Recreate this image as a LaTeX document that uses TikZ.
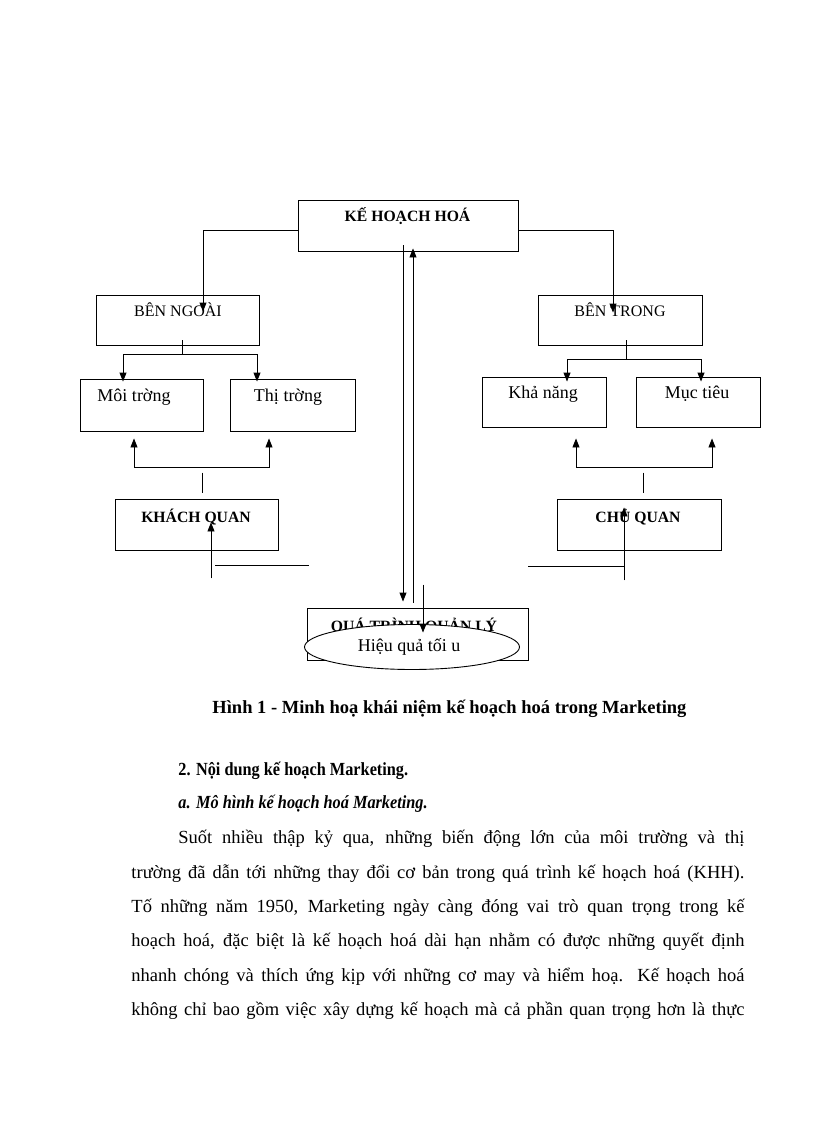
\documentclass[tikz,border=0pt]{standalone}
\usepackage{fontspec}
\setmainfont{Liberation Serif}
\newfontfamily\condserif[FakeStretch=0.88]{Liberation Serif}
\usetikzlibrary{arrows.meta,calc,shapes.geometric}
\begin{document}
\begin{tikzpicture}[x=1pt,y=-1pt,
  line width=0.9pt,
  box/.style={draw, rectangle, inner sep=0pt},
  lbl/.style={inner sep=0pt, anchor=base, font=\fontsize{16}{19}\selectfont},
  lblb/.style={lbl, font=\fontsize{15.7}{18}\selectfont\bfseries},
  arr/.style={-{Triangle[length=9pt,width=7pt]}},
  arrb/.style={{Triangle[length=9pt,width=7pt]}-{Triangle[length=9pt,width=7pt]}},
  body/.style={inner sep=0pt, anchor=base west, font=\fontsize{18.5}{21}\selectfont}]
\useasboundingbox (0,0) rectangle (816,1123);
% boxes
\node[box, minimum width=220pt, minimum height=51pt] (kh) at (408,225.5) {};
\node[box, minimum width=163pt, minimum height=50pt] (bn) at (177.5,320) {};
\node[box, minimum width=164pt, minimum height=50pt] (bt) at (620,320) {};
\node[box, minimum width=123pt, minimum height=52pt] (mt) at (141.5,405) {};
\node[box, minimum width=125pt, minimum height=52pt] (tt) at (292.5,405) {};
\node[box, minimum width=124pt, minimum height=50pt] (kn) at (544,402) {};
\node[box, minimum width=124pt, minimum height=50pt] (mu) at (698,402) {};
\node[box, minimum width=163pt, minimum height=51pt] (kq) at (196.5,524.5) {};
\node[box, minimum width=164pt, minimum height=51pt] (cq) at (639,524.5) {};
\node[box, minimum width=221pt, minimum height=52pt] (qt) at (417.5,634) {};
% labels
\node[lblb] (tkh) at (407.5,222) {KẾ HOẠCH HOÁ};
\node[lbl] (tbn) at (178,316) {BÊN NGOÀI};
\node[lbl] (tbt) at (620,316) {BÊN TRONG};
\node[lbl, font=\fontsize{18}{21}\selectfont] (tmt) at (134,401) {Môi trờng};
\node[lbl, font=\fontsize{18}{21}\selectfont] (ttt) at (288,401) {Thị trờng};
\node[lbl, font=\fontsize{18}{21}\selectfont] (tkn) at (543,398) {Khả năng};
\node[lbl, font=\fontsize{18}{21}\selectfont] (tmu) at (697,398) {Mục tiêu};
\node[lblb] (tkq) at (196,522) {KHÁCH QUAN};
\node[lblb] (tcq) at (638,522) {CHỦ QUAN};
\node[lblb] (tqt) at (414,631) {QUÁ TRÌNH QUẢN LÝ};
% ellipse
\node[draw, ellipse, fill=white, minimum width=215pt, minimum height=45pt, inner sep=0pt] (hq) at (412,647) {};
\node[lbl, font=\fontsize{18}{21}\selectfont] (thq) at (409,651) {Hiệu quả tối u};
% top connectors
\draw[arr] ($(kh.west)+(0,4.5)$) -| ($(bn.north)+(25.5,17)$);
\draw[arr] ($(kh.east)+(0,4.5)$) -| ($(bt.north)+(-7,18)$);
% left upper split
\draw ($(bn.south)+(4.5,-5)$) -- ++(0,15);
\draw[arrb] ($(mt.north)+(-18.5,3)$) -- ++(0,-27) -| ($(tt.north)+(-35.5,3)$);
% right upper split
\draw ($(bt.south)+(6,-5)$) -- ++(0,20);
\draw[arrb] ($(kn.north)+(23,5)$) -- ++(0,-22) -| ($(mu.north)+(3,5)$);
% left lower
\draw[arrb] ($(mt.south)+(-7.5,7)$) -- ++(0,29) -| ($(tt.south)+(-23.5,7)$);
\draw ($(kq.north)+(5.5,-26)$) -- ++(0,20);
% right lower
\draw[arrb] ($(kn.south)+(32,11)$) -- ++(0,29) -| ($(mu.south)+(14,11)$);
\draw ($(cq.north)+(4,-26)$) -- ++(0,20);
% inner lines
\draw[arr] ($(kq.south)+(14.5,28)$) -- ($(kq.south)+(14.5,-28)$);
\draw ($(kq.south)+(18.5,15)$) -- ++(94,0);
\draw[arr] ($(cq.south)+(-15,30)$) -- ($(cq.south)+(-15,-43)$);
\draw ($(cq.south)+(-15,16)$) -- ++(-96,0);
% central
\draw[arr] ($(kh.south)+(-5,-6)$) -- ($(qt.north)+(-14.5,-6)$);
\draw[arr] ($(qt.north)+(-4.5,-5)$) -- ($(kh.south)+(5,-3)$);
\draw[arr] ($(qt.north)+(5.5,-23)$) -- ($(qt.north)+(5.5,25)$);
% caption
\node[inner sep=0pt, anchor=base west, font=\fontsize{18.5}{21}\selectfont\bfseries] (cap) at (212,713) {Hình 1 - Minh hoạ khái niệm kế hoạch hoá trong Marketing};
% text
\node[body, font=\condserif\fontsize{18.5}{21}\selectfont\bfseries] (h2) at (178,775) {2. Nội dung kế hoạch Marketing.};
\node[body, font=\condserif\fontsize{18.5}{21}\selectfont\bfseries\itshape] (ha) at (178,808) {a. Mô hình kế hoạch hoá Marketing.};
\node[body] (p1) at (178,843) {\makebox[566pt][s]{Suốt nhiều thập kỷ qua, những biến động lớn của môi trường và thị}};
\node[body] (p2) at (131,878) {\makebox[613pt][s]{trường đã dẫn tới những thay đổi cơ bản trong quá trình kế hoạch hoá (KHH).}};
\node[body] (p3) at (131,912) {\makebox[613pt][s]{Tố những năm 1950, Marketing ngày càng đóng vai trò quan trọng trong kế}};
\node[body] (p4) at (131,946) {\makebox[613pt][s]{hoạch hoá, đặc biệt là kế hoạch hoá dài hạn nhằm có được những quyết định}};
\node[body] (p5) at (131,981) {\makebox[613pt][s]{nhanh chóng và thích ứng kịp với những cơ may và hiểm hoạ. Kế hoạch hoá}};
\node[body] (p6) at (131,1015) {\makebox[613pt][s]{không chỉ bao gồm việc xây dựng kế hoạch mà cả phần quan trọng hơn là thực}};
\end{tikzpicture}
\end{document}
